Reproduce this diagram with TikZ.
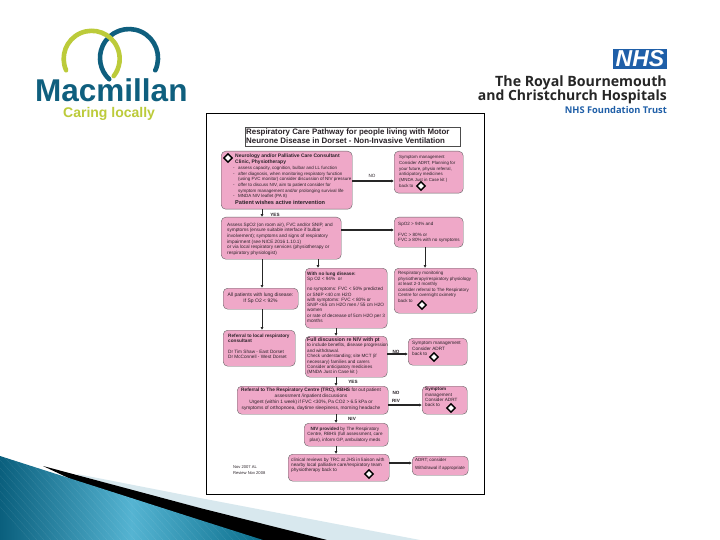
\documentclass[tikz,border=0pt]{standalone}
\usepackage{fontspec}
\setmainfont{Liberation Sans}
\newfontfamily\logofont{Open Sans}
\usetikzlibrary{arrows.meta,shapes.geometric}
\definecolor{pinkbox}{HTML}{EFA8C8}
\definecolor{mactealc}{HTML}{0F5F7E}
\definecolor{maclime}{HTML}{BCCB3A}
\definecolor{nhsblue}{HTML}{1F5FA8}
\definecolor{txtdark}{HTML}{2A2228}
\definecolor{decolight}{HTML}{D8E8EE}
\definecolor{decodark}{HTML}{0A5F7D}
\definecolor{decomid}{HTML}{55B4D2}
\definecolor{decoright}{HTML}{0A6E8C}
\tikzset{
 x=1pt,y=-1pt,
 pbox/.style={draw=black!60,line width=.4pt,fill=pinkbox,rounded corners=4.5pt},
 ptext/.style={text=txtdark,align=left,anchor=north west,inner sep=0pt},
 dmd/.style={diamond,draw=black,line width=1.4pt,fill=white,minimum width=9pt,minimum height=9pt,inner sep=0pt},
 conn/.style={draw=black!85,line width=.9pt,-{Latex[length=2.8pt,width=2.8pt]}},
 lab/.style={font=\fontsize{4.6}{5.5}\selectfont\bfseries,text=txtdark,inner sep=0pt},
}
\newcommand{\pb}[5]{\node[pbox,minimum width=#3-#1,minimum height=#4-#2,anchor=north west,inner sep=0pt] (#5) at (#1,#2) {};}
\newcommand{\fsz}[2]{\fontsize{#1}{#2}\selectfont}
\begin{document}
\begin{tikzpicture}
\useasboundingbox (0,0) rectangle (720,540);
\fill[white] (0,0) rectangle (720,540);
% bottom decoration
\fill[decolight] (77,474) -- (200,498) -- (420,540) -- (200,540) -- cycle;
\fill[black] (43,466) -- (200,508) -- (327,540) -- (200,540) -- cycle;
\begin{scope}
\clip (0,456) -- (200,520) -- (263,540) -- (0,540) -- cycle;
\shade[left color=decodark,right color=decoright,middle color=decomid] (0,456) rectangle (263,540);
\foreach \s in {0,7,...,300}{\draw[white,opacity=.1,line width=.3pt] (\s-60,440) -- (\s+30,540);}
\end{scope}
% macmillan logo
\draw[mactealc,line width=4.6pt,line cap=round] (155.3,70.3) arc[start angle=25,end angle=-227,radius=29];
\draw[maclime,line width=4.6pt,line cap=round] (66.1,70.2) arc[start angle=-204,end angle=38,radius=28];
\node[anchor=base west,inner sep=0,text=mactealc,font=\fsz{31.5}{32}\bfseries] (mactext) at (35,102) {Macmillan};
\node[anchor=base west,inner sep=0,text=maclime,font=\fsz{14}{14}\bfseries] (mactag) at (63,117.5) {Caring locally};
% NHS logo
\node[fill=nhsblue,minimum width=54pt,minimum height=20pt,inner sep=0,text=white,font=\fsz{23}{23}\bfseries\itshape] (nhs) at (640,59) {NHS};
\node[anchor=base east,inner sep=0,text=black!85,font=\logofont\fsz{14.2}{15}\bfseries] (t1) at (667,87) {The Royal Bournemouth};
\node[anchor=base east,inner sep=0,text=black!85,font=\logofont\fsz{14}{15}\bfseries] (t2) at (667,101) {and Christchurch Hospitals};
\node[anchor=base east,inner sep=0,text=nhsblue,font=\logofont\fsz{9.3}{10}\bfseries] (t3) at (667,114) {NHS Foundation Trust};
% frame
\draw[black,line width=.8pt,fill=white] (206,113) rectangle (484,494);
% title
\draw[black!70,line width=.4pt] (245,127) rectangle (460,146.5);
\node[anchor=west,inner sep=0,align=left,font=\fsz{7.9}{9}\bfseries,text=txtdark] (title) at (246,136.5) {Respiratory Care Pathway for people living with Motor\\Neurone Disease in Dorset - Non-Invasive Ventilation};
% boxes
\pb{221}{151}{352}{209}{A}
\pb{394}{151}{463}{193}{B}
\pb{221}{217}{341}{259}{C}
\pb{394}{217}{463}{247}{D}
\pb{305}{268}{387}{328}{E}
\pb{394}{268}{477}{313}{F}
\pb{223}{288}{298}{309}{G}
\pb{223}{330}{295}{366}{H}
\pb{305}{336}{387}{377}{I}
\pb{408}{338}{467}{365}{J}
\pb{237}{386}{388}{414}{K}
\pb{422}{386}{467}{414}{L}
\pb{304}{423}{388}{446}{M}
\pb{288}{454}{389}{481}{N}
\pb{412}{456}{468}{475}{O}
% texts
\node[ptext,font=\fsz{5}{5.8}\bfseries] (Ah) at (235,154) {Neurology and/or Palliative Care Consultant\\Clinic, Physiotherapy};
\node[ptext,font=\fsz{4.5}{5.7}] (Ab) at (233,166) {-\hspace{3.5pt}assess capacity, cognition, bulbar and LL function\\-\hspace{3.5pt}after diagnosis, when monitoring respiratory function\\\hspace{5pt}(using FVC monitor) consider discussion of NIV pressure\\-\hspace{3.5pt}offer to discuss NIV, aim to patient consider for\\\hspace{5pt}symptom management and/or prolonging survival life\\-\hspace{3.5pt}MNDA NIV leaflet (PA 8)};
\node[ptext,font=\fsz{5.6}{6.5}\bfseries] (Af) at (235,200.5) {Patient wishes active intervention};
\node[ptext,font=\fsz{4.4}{5.7}] (Bt) at (399,155.5) {Symptom management\\Consider ADRT, Planning for\\your future, physio referral,\\anticipatory medicines\\(MNDA Just in Case kit )\\back to};
\node[ptext,font=\fsz{4.7}{5.7}] (Ct) at (227,222.5) {Assess SpO2 (on room air), FVC and/or SNIP, and\\symptoms (ensure suitable interface if bulbar\\involvement); symptoms and signs of respiratory\\impairment (see NICE 2016 1.10.1)\\or via local respiratory services (physiotherapy or\\respiratory physiologist)};
\node[ptext,font=\fsz{4.6}{5.4}] (Dt) at (398,222) {SpO2 > 94\% and\\[5.6pt]FVC > 80\% or\\FVC ≥ 80\% with no symptoms};
\node[ptext,font=\fsz{4.7}{5.3}] (Et) at (307,271.5) {\textbf{With no lung disease:}\\Sp O2 < 94\% \ or\\[5pt]no symptoms: FVC < 50\% predicted\\or SNIP <40 cm H2O\\with symptoms: FVC < 80\% or\\SNIP <65 cm H2O men / 55 cm H2O\\women\\or rate of decrease of 5cm H2O per 3\\months};
\node[ptext,font=\fsz{4.5}{5.5}] (Ft) at (398,271.5) {Respiratory monitoring\\physiotherapy/respiratory physiology\\at least 2-3 monthly\\consider referral to The Respiratory\\Centre for overnight oximetry\\back to};
\node[ptext,font=\fsz{5}{6.3},align=center,anchor=center] (Gt) at (260.5,298) {All patients with lung disease:\\If Sp O2 < 92\%};
\node[ptext,font=\fsz{4.7}{5.4}] (Ht) at (228,333.5) {\textbf{Referral to local respiratory}\\\textbf{consultant}\\[5.4pt]Dr Tim Shaw - East Dorset\\Dr McConnell - West Dorset};
\node[ptext,font=\fsz{4.6}{5.4}] (It) at (307,337.5) {\textbf{\fsz{5.2}{5.4}Full discussion re NIV with pt}\\to include benefits, disease progression\\and withdrawal.\\Check understanding; site MCT (if\\necessary) families and carers\\Consider anticipatory medicines\\(MNDA Just in Case kit )};
\node[ptext,font=\fsz{4.7}{5.3}] (Jt) at (412,341.5) {Symptom management\\Consider ADRT\\back to};
\node[ptext,font=\fsz{4.8}{5.9},align=center,anchor=center] (Kt) at (311,399.5) {\textbf{Referral to The Respiratory Centre (TRC), RBHS} for out patient\\assessment /inpatient discussions\\Urgent (within 1 week) if FVC <30\%, Pa CO2 > 6.5 kPa or\\symptoms of orthopnoea, daytime sleepiness, morning headache};
\node[ptext,font=\fsz{4.6}{5.3}] (Lt) at (425,387.5) {\textbf{Symptom}\\management\\Consider ADRT\\back to};
\node[ptext,font=\fsz{4.6}{5.6},align=center,anchor=center] (Mt) at (345,434.5) {\textbf{NIV provided} by The Respiratory\\Centre, RBHS (full assessment, care\\plan), inform GP, ambulatory meds};
\node[ptext,font=\fsz{4.7}{5.4}] (Nt) at (291,457.5) {clinical reviews by TRC at JHS in liaison with\\nearby local palliative care/respiratory team\\physiotherapy back to};
\node[ptext,font=\fsz{4.5}{7.3}] (Ot) at (415,458.5) {ADRT; consider\\Withdrawal if appropriate};
\node[ptext,font=\fsz{4.1}{5.6}] (rev) at (233,465.5) {Nov 2007 AL\\Review Nov 2008};
% diamonds
\node[dmd] (d1) at (228,158) {};
\node[dmd] (d2) at (421,186) {};
\node[dmd] (d3) at (422,305) {};
\node[dmd] (d4) at (434,357) {};
\node[dmd] (d5) at (451,408) {};
\node[dmd] (d6) at (369,474) {};
% connectors
\draw[conn,line width=1.1pt] (A.east |- 0,181) -- (B.west |- 0,181);
\draw[conn] (A.south -| 262,0) -- (C.north -| 262,0);
\draw[conn,line width=1.1pt] (C.east |- 0,230) -- (D.west |- 0,230);
\draw[conn] (D.south -| 425,0) -- (F.north -| 425,0);
\draw[conn] (C.south -| 262,0) -- (G.north -| 262,0);
\draw[conn] (C.south -| 318,0) -- (E.north -| 318,0);
\draw[conn] (G.south -| 262,0) -- (H.north -| 262,0);
\draw[conn] (E.south -| 336,0) -- (I.north -| 336,0);
\draw[conn,line width=1.1pt] (I.east |- 0,354) -- (J.west |- 0,354);
\draw[conn] (I.south -| 336,0) -- (K.north -| 336,0);
\draw[conn,line width=1.1pt] (K.east |- 0,405) -- (L.west |- 0,405);
\draw[conn] (K.south -| 336,0) -- (M.north -| 336,0);
\draw[conn] (M.south -| 336,0) -- (N.north -| 336,0);
\draw[conn,line width=1.1pt] (N.east |- 0,463) -- (O.west |- 0,463);
% labels
\node[lab,font=\fsz{4.6}{5}] (l1) at (372,176) {NO};
\node[lab] (l2) at (275,214.5) {YES};
\node[lab] (l3) at (396,352) {NO};
\node[lab] (l4) at (353,381.5) {YES};
\node[lab,align=center,font=\fsz{4.6}{7.5}\bfseries] (l5) at (396,397) {NO\\RIV};
\node[lab] (l6) at (352,418.5) {NIV};
\end{tikzpicture}
\end{document}
